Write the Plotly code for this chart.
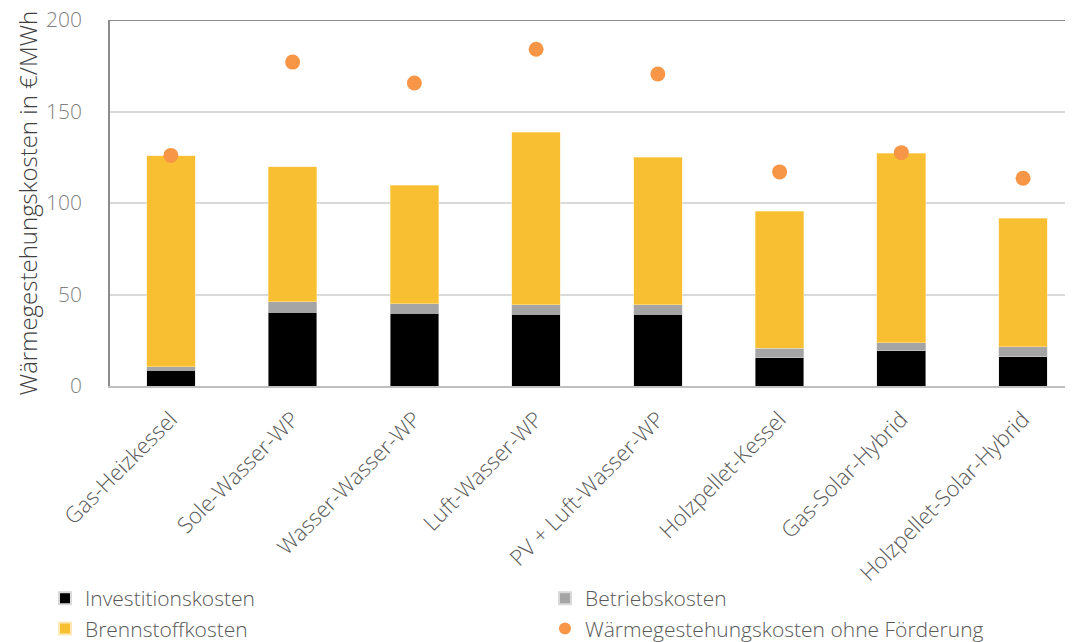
import plotly.graph_objects as go

categories = ["Gas-Heizkessel", "Sole-Wasser-WP", "Wasser-Wasser-WP", "Luft-Wasser-WP",
              "PV + Luft-Wasser-WP", "Holzpellet-Kessel", "Gas-Solar-Hybrid", "Holzpellet-Solar-Hybrid"]
investitionskosten = [8.7, 40.4, 39.7, 39.2, 39.2, 15.5, 19.3, 16.0]
betriebskosten = [1.7, 5.6, 5.3, 5.1, 5.1, 5.1, 4.4, 5.5]
brennstoffkosten = [115.3, 73.7, 64.8, 94.5, 80.8, 75.0, 103.6, 70.3]
ohne_foerderung = [126.0, 177.0, 165.6, 184.0, 170.5, 117.0, 127.5, 113.5]

FONT = "Segoe UI, Open Sans, sans-serif"
LEGFONT = dict(size=21, color="#595959", family=FONT, weight=300)
fig = go.Figure()
fig.add_bar(x=categories, y=investitionskosten, name="Investitionskosten", legend="legend",
            marker=dict(color="#000000", line=dict(color="#d9d9d9", width=0.5)))
fig.add_bar(x=categories, y=betriebskosten, name="Betriebskosten", legend="legend2",
            marker=dict(color="#a5a5a5", line=dict(color="#d9d9d9", width=0.5)))
fig.add_bar(x=categories, y=brennstoffkosten, name="Brennstoffkosten", legend="legend",
            marker=dict(color="#f8bf33", line=dict(color="#fde9b5", width=0.5)))
fig.add_scatter(x=categories, y=ohne_foerderung, mode="markers", legend="legend2",
                name="Wärmegestehungskosten ohne Förderung",
                marker=dict(color="#f79646", size=15))

fig.update_layout(
    barmode="stack", bargap=0.6,
    width=1073, height=660,
    margin=dict(l=102, r=8, t=12, b=282),
    plot_bgcolor="white", paper_bgcolor="white",
    font=dict(family=FONT, color="#595959", weight=300),
    showlegend=True,
    legend=dict(orientation="v", x=-0.0675, xanchor="left", y=-0.5246, yanchor="top",
                bgcolor="rgba(0,0,0,0)",
                traceorder="normal", font=LEGFONT, itemsizing="constant", tracegroupgap=0),
    legend2=dict(orientation="v", x=0.4517, xanchor="left", y=-0.5246, yanchor="top",
                 bgcolor="rgba(0,0,0,0)",
                 traceorder="normal", font=LEGFONT, itemsizing="constant", tracegroupgap=0),
)
fig.update_xaxes(range=[-0.5, 7.41], tickangle=-45, tickfont=dict(size=22, color="#595959"),
                 showline=True, linecolor="#bfbfbf", linewidth=1.5, mirror=False, ticks="",
                 ticklabelstandoff=10, automargin=False)
fig.update_yaxes(range=[0, 200], dtick=50, showgrid=True, gridcolor="#d9d9d9", gridwidth=1.5,
                 showline=True, linecolor="#8c8c8c", linewidth=1.5,
                 tickfont=dict(size=21, color="#7f7f7f"), ticklabelstandoff=22,
                 ticklabeloverflow="allow",
                 title=dict(text="Wärmegestehungskosten in €/MWh", font=dict(size=24, color="#404040"),
                            standoff=2),
                 zeroline=False, automargin=False)
fig.add_shape(type="line", xref="paper", yref="y", x0=0, x1=1, y0=200, y1=200,
              line=dict(color="#8c8c8c", width=2))
fig.write_html("out.html")
